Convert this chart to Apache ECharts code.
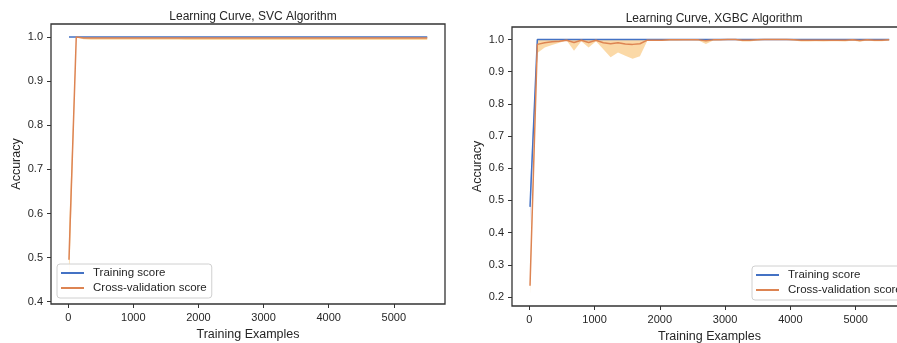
<!DOCTYPE html>
<html>
<head>
<meta charset="utf-8">
<script src="https://cdn.jsdelivr.net/npm/echarts@6/dist/echarts.min.js"></script>
<style>
html,body{margin:0;padding:0;background:#fff;}
#c{width:897px;height:343px;}
</style>
</head>
<body>
<div id="c"></div>
<script>
// ---------- data ----------
const trainSizes = [11,123,236,348,460,573,685,797,909,1022,1134,1246,1359,1471,1583,1695,1808,1920,2032,2145,2257,2369,2482,2594,2706,2818,2931,3043,3155,3268,3380,3492,3604,3717,3829,3941,4054,4166,4278,4391,4503,4615,4727,4840,4952,5064,5177,5289,5401,5514];

// SVC
const svcTrain = [1.0,1.0,1.0,1.0,1.0,1.0,1.0,1.0,1.0,1.0,1.0,1.0,1.0,1.0,1.0,1.0,1.0,1.0,1.0,1.0,1.0,1.0,1.0,1.0,1.0,1.0,1.0,1.0,1.0,1.0,1.0,1.0,1.0,1.0,1.0,1.0,1.0,1.0,1.0,1.0,1.0,1.0,1.0,1.0,1.0,1.0,1.0,1.0,1.0,1.0];
const svcCv = [0.495,1.0,0.998,0.998,0.998,0.998,0.998,0.998,0.998,0.998,0.998,0.998,0.998,0.998,0.998,0.998,0.998,0.998,0.998,0.998,0.998,0.998,0.998,0.998,0.998,0.998,0.998,0.998,0.998,0.998,0.998,0.998,0.998,0.998,0.998,0.998,0.998,0.998,0.998,0.998,0.998,0.998,0.998,0.998,0.998,0.998,0.998,0.998,0.998,0.998];
const svcCvLow = [0.43,1.0,0.995,0.994,0.994,0.994,0.994,0.994,0.994,0.994,0.994,0.994,0.994,0.994,0.994,0.994,0.993,0.993,0.993,0.993,0.993,0.993,0.993,0.993,0.993,0.993,0.993,0.993,0.993,0.993,0.993,0.993,0.993,0.993,0.993,0.993,0.993,0.993,0.993,0.993,0.993,0.993,0.993,0.993,0.993,0.993,0.993,0.993,0.993,0.993];
const svcCvHigh = [0.56,1.0,1.0,1.0,1.0,1.0,1.0,1.0,1.0,1.0,1.0,1.0,1.0,1.0,1.0,1.0,1.0,1.0,1.0,1.0,1.0,1.0,1.0,1.0,1.0,1.0,1.0,1.0,1.0,1.0,1.0,1.0,1.0,1.0,1.0,1.0,1.0,1.0,1.0,1.0,1.0,1.0,1.0,1.0,1.0,1.0,1.0,1.0,1.0,1.0];

// XGBC
const xgbTrain = [0.48,1.0,1.0,1.0,1.0,1.0,1.0,1.0,1.0,1.0,1.0,1.0,1.0,1.0,1.0,1.0,1.0,1.0,1.0,1.0,1.0,1.0,1.0,1.0,1.0,1.0,1.0,1.0,1.0,1.0,1.0,1.0,1.0,1.0,1.0,1.0,1.0,1.0,1.0,1.0,1.0,1.0,1.0,1.0,1.0,1.0,1.0,1.0,1.0,1.0];
const xgbTrainLow = [0.42,1.0,1.0,1.0,1.0,1.0,1.0,1.0,1.0,1.0,1.0,1.0,1.0,1.0,1.0,1.0,1.0,1.0,1.0,1.0,1.0,1.0,1.0,1.0,1.0,1.0,1.0,1.0,1.0,1.0,1.0,1.0,1.0,1.0,1.0,1.0,1.0,1.0,1.0,1.0,1.0,1.0,1.0,1.0,1.0,1.0,1.0,1.0,1.0,1.0];
const xgbTrainHigh = [0.54,1.0,1.0,1.0,1.0,1.0,1.0,1.0,1.0,1.0,1.0,1.0,1.0,1.0,1.0,1.0,1.0,1.0,1.0,1.0,1.0,1.0,1.0,1.0,1.0,1.0,1.0,1.0,1.0,1.0,1.0,1.0,1.0,1.0,1.0,1.0,1.0,1.0,1.0,1.0,1.0,1.0,1.0,1.0,1.0,1.0,1.0,1.0,1.0,1.0];
const xgbCv = [0.235,0.985,0.99,0.993,0.995,0.998,0.991,0.998,0.991,0.998,0.990,0.987,0.990,0.986,0.985,0.987,0.998,0.998,0.998,0.999,0.999,0.999,0.999,0.999,0.996,0.999,0.999,1.0,1.0,0.998,0.998,0.999,1.0,1.0,1.0,1.0,0.999,0.998,0.998,0.998,0.998,0.998,0.998,0.998,0.999,0.997,0.999,0.998,0.998,0.999];
const xgbCvLow = [0.211,0.958,0.975,0.983,0.99,0.997,0.965,0.995,0.975,0.995,0.97,0.945,0.96,0.95,0.94,0.948,0.996,0.996,0.996,0.997,0.997,0.998,0.998,0.997,0.986,0.997,0.998,1.0,0.999,0.994,0.994,0.997,0.999,1.0,1.0,0.999,0.997,0.994,0.994,0.995,0.994,0.995,0.995,0.994,0.997,0.993,0.997,0.995,0.995,0.997];
const xgbCvHigh = [0.26,1.0,1.0,1.0,1.0,1.0,1.0,1.0,1.0,1.0,1.0,1.0,1.0,1.0,1.0,1.0,1.0,1.0,1.0,1.0,1.0,1.0,1.0,1.0,1.0,1.0,1.0,1.0,1.0,1.0,1.0,1.0,1.0,1.0,1.0,1.0,1.0,1.0,1.0,1.0,1.0,1.0,1.0,1.0,1.0,1.0,1.0,1.0,1.0,1.0];

const xTicks = [0,1000,2000,3000,4000,5000];
const svcYTicks = [0.4,0.5,0.6,0.7,0.8,0.9,1.0];
const xgbYTicks = [0.2,0.3,0.4,0.5,0.6,0.7,0.8,0.9,1.0];
const titles = ['Learning Curve, SVC Algorithm','Learning Curve, XGBC Algorithm'];
const names = ['Training score','Cross-validation score'];

// ---------- styling ----------
const FONT = '"Liberation Sans", Arial, sans-serif';
const TXT = '#262626';
const BLUE = '#4472c4';
const ORANGE = '#dd8452';
const FILL_O = 'rgba(248,180,80,0.5)';
const FILL_B = 'rgba(120,140,230,0.35)';

function zip(xs, ys){ return xs.map((x,i)=>[x, ys[i]]); }

function band(idx, xs, lo, hi, color){
  return {
    type:'custom', xAxisIndex:idx, yAxisIndex:idx, silent:true, z:1,
    data:[[xs[0], lo[0]]],
    clip:true,
    renderItem:function(params, api){
      if (params.dataIndex !== 0) return null;
      const pts = [];
      for (let i=0;i<xs.length;i++) pts.push(api.coord([xs[i], hi[i]]));
      for (let i=xs.length-1;i>=0;i--) pts.push(api.coord([xs[i], lo[i]]));
      return {type:'polygon', shape:{points:pts}, style:{fill:color, stroke:null}};
    }
  };
}
function line(idx, name, xs, ys, color, z){
  return {type:'line', name:name, xAxisIndex:idx, yAxisIndex:idx, data:zip(xs,ys),
    showSymbol:false, symbol:'none', z:z, clip:true,
    lineStyle:{color:color, width:1.5}, itemStyle:{color:color}};
}
function xAxis(idx){
  return {type:'value', gridIndex:idx, min:-265, max:5787, position:'bottom',
    name:'Training Examples', nameLocation:'middle', nameGap:21,
    nameTextStyle:{fontFamily:FONT, fontSize:12.5, color:TXT},
    axisLine:{show:false, onZero:false}, splitLine:{show:false},
    axisTick:{show:true, length:4, customValues:xTicks, lineStyle:{color:'#333', width:1}},
    axisLabel:{customValues:xTicks, margin:8, fontFamily:FONT, fontSize:11, color:TXT,
      formatter:v=>String(v)}};
}
function yAxis(idx, min, max, ticks){
  return {type:'value', gridIndex:idx, min:min, max:max, position:'left',
    name:'Accuracy', nameLocation:'middle', nameGap:28,
    nameTextStyle:{fontFamily:FONT, fontSize:12.5, color:TXT},
    axisLine:{show:false, onZero:false}, splitLine:{show:false},
    axisTick:{show:true, length:4, customValues:ticks, lineStyle:{color:'#333', width:1}},
    axisLabel:{customValues:ticks, margin:8, fontFamily:FONT, fontSize:11, color:TXT,
      formatter:v=>v.toFixed(1)}};
}
function legend(left, top){
  return {data:names, orient:'vertical', left:left, top:top, icon:'rect',
    itemWidth:23, itemHeight:2, itemGap:1,
    padding:[2,5,3,4], backgroundColor:'rgba(255,255,255,0.85)',
    borderColor:'#d0d0d0', borderWidth:1, borderRadius:3,
    textStyle:{fontFamily:FONT, fontSize:11.5, color:TXT, lineHeight:14, padding:[0,0,0,4]},
    selectedMode:false};
}

const chart = echarts.init(document.getElementById('c'), null, {renderer:'canvas'});
chart.setOption({
  animation:false,
  backgroundColor:'#fff',
  title:[
    {text:titles[0], left:248, top:6, textAlign:'center',
      textStyle:{fontFamily:FONT, fontSize:12, fontWeight:'normal', color:TXT}},
    {text:titles[1], left:709, top:8, textAlign:'center',
      textStyle:{fontFamily:FONT, fontSize:12, fontWeight:'normal', color:TXT}}
  ],
  grid:[
    {left:51, top:24, width:394, height:280, show:true, borderColor:'#333', borderWidth:1.3,
      backgroundColor:'transparent', outerBoundsMode:'none', containLabel:false},
    {left:512, top:27, width:395, height:279, show:true, borderColor:'#333', borderWidth:1.3,
      backgroundColor:'transparent', outerBoundsMode:'none', containLabel:false}
  ],
  legend:[legend(57,264), legend(752,266)],
  xAxis:[xAxis(0), xAxis(1)],
  yAxis:[yAxis(0, 0.3948, 1.0295, svcYTicks), yAxis(1, 0.172, 1.039, xgbYTicks)],
  series:[
    band(0, trainSizes, svcCvLow, svcCvHigh, FILL_O),
    line(0, names[0], trainSizes, svcTrain, BLUE, 3),
    line(0, names[1], trainSizes, svcCv, ORANGE, 4),
    band(1, trainSizes, xgbTrainLow, xgbTrainHigh, FILL_B),
    band(1, trainSizes, xgbCvLow, xgbCvHigh, FILL_O),
    line(1, names[0], trainSizes, xgbTrain, BLUE, 3),
    line(1, names[1], trainSizes, xgbCv, ORANGE, 4)
  ]
});
</script>
</body>
</html>
